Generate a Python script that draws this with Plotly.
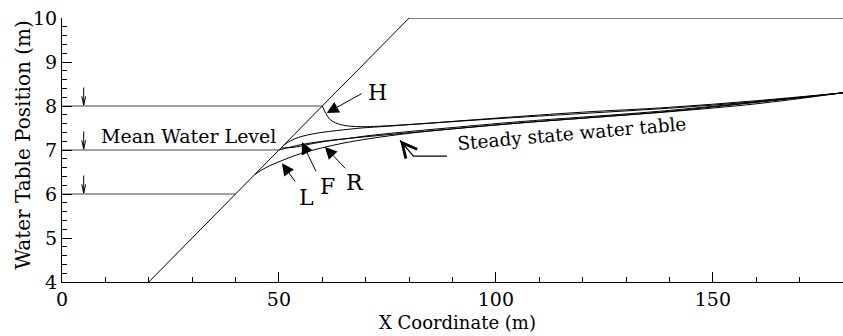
import numpy as np
import plotly.graph_objects as go

# Beach profile: foreshore slope up to the crest, then flat
beach_x = [20, 80, 180]
beach_y = [4, 10, 10]

# Tide levels (high, mean, low) and the x position of the level markers
tide_levels = [8, 7, 6]
marker_x = 5

# Water table profiles (x in m, elevation in m)
steady_x = [50, 55, 61, 71, 90, 105, 125, 140, 160, 180]
steady_y = [7.00, 7.12, 7.21, 7.31, 7.48, 7.61, 7.76, 7.87, 8.05, 8.30]

L_x = [44.5, 47, 50.7, 55, 60, 65, 71, 80, 90, 105, 140, 180]
L_y = [6.45, 6.60, 6.76, 6.92, 7.05, 7.16, 7.26, 7.38, 7.48, 7.61, 7.88, 8.30]

R_x = [50.5, 52, 54, 56, 58, 61, 65, 71, 80, 90, 105, 140, 180]
R_y = [7.05, 7.05, 7.07, 7.11, 7.15, 7.20, 7.25, 7.33, 7.42, 7.51, 7.64, 7.90, 8.30]

F_x = [51, 52, 53.5, 55.3, 58, 61.4, 65, 69, 75, 85, 100, 120, 140, 160, 180]
F_y = [7.10, 7.17, 7.25, 7.31, 7.37, 7.42, 7.46, 7.50, 7.54, 7.61, 7.71, 7.83, 7.95, 8.10, 8.30]

H_x = [60, 60.7, 61.7, 63, 64.5, 66.5, 69.4, 73, 80, 90, 105, 120, 140, 160, 180]
H_y = [8.00, 7.85, 7.70, 7.62, 7.57, 7.54, 7.53, 7.54, 7.58, 7.65, 7.76, 7.86, 7.97, 8.12, 8.30]

FONT = "DejaVu Serif"
INK = "black"

fig = go.Figure()

# Beach surface
fig.add_trace(go.Scatter(x=beach_x, y=beach_y, mode="lines",
                         line=dict(color=INK, width=1), hoverinfo="skip"))

# Tide levels drawn from the left edge to where they meet the slope
for lvl in tide_levels:
    x_end = float(np.interp(lvl, beach_y[:2], beach_x[:2]))
    fig.add_trace(go.Scatter(x=[0, x_end], y=[lvl, lvl], mode="lines",
                             line=dict(color="#444", width=1), hoverinfo="skip"))
    # small downward arrow marking the level
    fig.add_shape(type="line", xref="x", yref="y", x0=marker_x, x1=marker_x,
                  y0=lvl + 0.42, y1=lvl + 0.02, line=dict(color=INK, width=1))
    fig.add_shape(type="path", xref="x", yref="y",
                  path=f"M {marker_x - 0.45},{lvl + 0.22} L {marker_x},{lvl + 0.02} L {marker_x + 0.45},{lvl + 0.22}",
                  line=dict(color=INK, width=1))

# Water table curves
for xs, ys in [(steady_x, steady_y), (L_x, L_y), (R_x, R_y), (F_x, F_y), (H_x, H_y)]:
    fig.add_trace(go.Scatter(x=xs, y=ys, mode="lines", line_shape="spline",
                             line=dict(color=INK, width=1), hoverinfo="skip"))

annotations = []

# Curve labels with pointer arrows: (label, tip, tail, text position)
labels = [
    ("H", (61.0, 7.84), (69.4, 8.30), (72.8, 8.30)),
    ("L", (50.7, 6.70), (54.0, 6.25), (56.4, 5.93)),
    ("F", (55.3, 7.18), (58.7, 6.48), (61.3, 6.16)),
    ("R", (60.6, 7.07), (65.6, 6.55), (67.5, 6.27)),
]
for name, tip, tail, pos in labels:
    annotations.append(dict(x=tip[0], y=tip[1], ax=tail[0], ay=tail[1],
                            axref="x", ayref="y", xref="x", yref="y", text="",
                            showarrow=True, arrowhead=2, arrowsize=2.4,
                            arrowwidth=1, arrowcolor=INK, standoff=0))
    annotations.append(dict(x=pos[0], y=pos[1], xref="x", yref="y", text=name,
                            xanchor="center", yanchor="middle", showarrow=False,
                            font=dict(family=FONT, size=22, color=INK)))

# Steady-state pointer: bent line ending in an open head
fig.add_shape(type="path", xref="x", yref="y",
              path="M 88.7,6.86 L 81.0,6.86 L 77.9,7.22",
              line=dict(color=INK, width=1.3))
annotations.append(dict(x=77.9, y=7.22, ax=79.4, ay=7.045, axref="x", ayref="y",
                        xref="x", yref="y", text="", showarrow=True, arrowhead=5,
                        arrowsize=2.4, arrowwidth=1.2, arrowcolor=INK, standoff=0))
annotations.append(dict(x=117.5, y=7.37, xref="x", yref="y", text="Steady state water table",
                        xanchor="center", yanchor="middle", showarrow=False, textangle=-5,
                        font=dict(family=FONT, size=18.5, color=INK)))

annotations.append(dict(x=29.1, y=7.32, xref="x", yref="y", text="Mean Water Level",
                        xanchor="center", yanchor="middle", showarrow=False,
                        font=dict(family=FONT, size=19, color=INK)))

# Axis titles
annotations.append(dict(x=0.507, y=-0.152, xref="paper", yref="paper",
                        text="X Coordinate (m)", xanchor="center", yanchor="middle",
                        showarrow=False, font=dict(family=FONT, size=18, color=INK)))
annotations.append(dict(x=-0.0512, y=0.517, xref="paper", yref="paper",
                        text="Water Table Position (m)", xanchor="center", yanchor="middle",
                        showarrow=False, textangle=-90,
                        font=dict(family=FONT, size=20, color=INK)))

fig.update_layout(
    width=843, height=336,
    margin=dict(l=62, r=0, t=18, b=54),
    paper_bgcolor="white", plot_bgcolor="white",
    showlegend=False,
    annotations=annotations,
    font=dict(family=FONT, color=INK),
)
fig.update_xaxes(range=[0, 180], tickvals=[0, 50, 100, 150], ticks="inside",
                 ticklen=10, tickcolor=INK, showline=True, linecolor=INK, linewidth=1,
                 showgrid=False, zeroline=False,
                 minor=dict(dtick=10, ticks="inside", ticklen=5, tickcolor=INK, showgrid=False),
                 tickfont=dict(family=FONT, size=19, color=INK))
fig.update_yaxes(range=[4, 10], dtick=1, ticks="inside", ticklen=10, tickcolor=INK,
                 showline=True, linecolor=INK, linewidth=1, showgrid=False, zeroline=False,
                 minor=dict(dtick=0.2, ticks="inside", ticklen=5, tickcolor=INK, showgrid=False),
                 tickfont=dict(family=FONT, size=19, color=INK))

fig.write_html("out.html")
